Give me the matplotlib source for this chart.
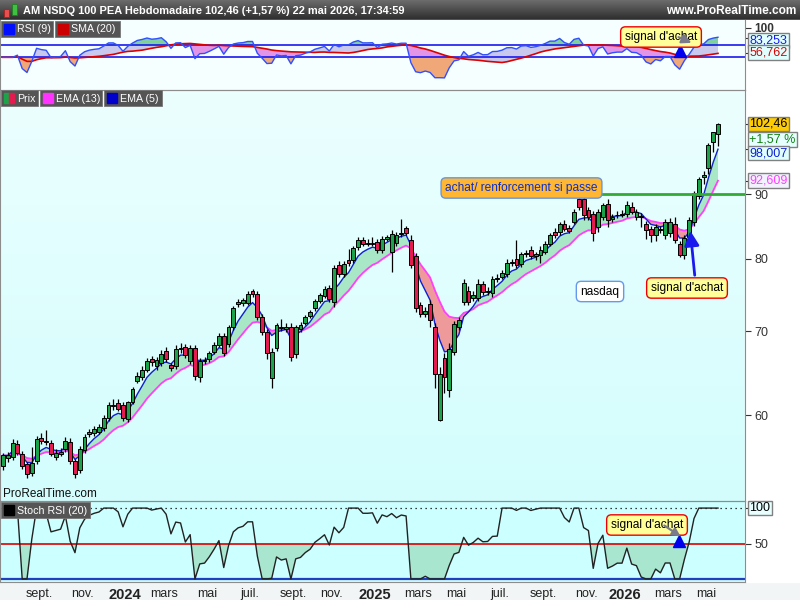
import numpy as np
import pandas as pd
import matplotlib
matplotlib.use("Agg")
import matplotlib.pyplot as plt
import matplotlib.transforms as mtransforms
from matplotlib.colors import LinearSegmentedColormap
from matplotlib.patches import Rectangle
from matplotlib.ticker import FixedLocator, FixedFormatter, NullLocator

plt.rcParams["font.family"] = ["Liberation Sans", "DejaVu Sans"]

# weekly candles, AM NSDQ 100 PEA
opens = [
    54.6, 55.4, 55.5, 56.9, 55.9, 54.8, 53.9, 55.1, 57.5, 57.2,
    57.0, 55.5, 55.9, 56.4, 57.1, 55.1, 54.2, 56.3, 57.9, 58.0,
    58.2, 58.6, 59.7, 61.0, 61.3, 61.1, 59.6, 61.5, 63.9, 64.3,
    65.2, 66.5, 65.6, 66.0, 67.5, 65.8, 65.7, 67.7, 68.0, 66.3,
    67.9, 64.4, 66.3, 66.5, 67.4, 68.3, 69.4, 68.4, 70.5, 73.6,
    73.7, 73.7, 75.3, 74.9, 71.9, 69.9, 64.2, 67.9, 70.6, 70.3,
    70.6, 67.1, 70.3, 71.1, 72.0, 73.0, 74.0, 74.7, 75.8, 73.8,
    79.1, 77.8, 79.8, 79.8, 81.7, 82.8, 82.3, 82.2, 82.5, 81.2,
    83.0, 80.9, 82.3, 83.7, 84.6, 82.7, 80.4, 73.4, 72.2, 73.6,
    70.5, 59.5, 66.6, 62.8, 67.4, 70.6, 73.8, 75.4, 74.4, 74.4,
    76.3, 75.2, 75.1, 77.0, 77.4, 77.8, 79.3, 80.0, 79.2, 80.6,
    81.2, 80.3, 80.5, 81.0, 82.2, 84.0, 84.0, 85.2, 84.6, 85.6,
    89.3, 89.3, 87.5, 86.9, 84.7, 86.3, 88.4, 86.1, 86.6, 86.8,
    86.8, 88.0, 86.4, 86.5, 85.2, 84.5, 83.5, 84.4, 83.5, 83.8,
    85.3, 82.1, 80.5, 83.3, 85.5, 89.8, 93.0, 94.5, 99.2, 100.6,
]
highs = [
    56.0, 56.1, 57.4, 57.3, 56.2, 55.0, 56.6, 57.7, 58.0, 58.4,
    57.3, 56.4, 56.5, 57.6, 57.5, 55.3, 56.7, 57.9, 58.5, 58.8,
    59.0, 60.0, 61.4, 61.8, 61.8, 61.5, 61.6, 63.2, 64.9, 65.6,
    66.6, 66.9, 66.7, 67.6, 68.0, 66.0, 68.2, 68.5, 68.4, 68.3,
    68.3, 66.6, 66.8, 67.5, 68.6, 69.8, 69.8, 70.8, 73.3, 74.3,
    74.4, 75.4, 75.6, 75.4, 72.3, 70.3, 67.9, 71.1, 71.6, 71.0,
    71.0, 70.8, 71.2, 72.1, 72.8, 74.3, 75.1, 76.1, 76.2, 79.0,
    79.6, 79.6, 81.4, 81.9, 83.2, 83.3, 83.0, 83.2, 82.9, 83.4,
    83.6, 84.3, 84.0, 86.0, 85.0, 83.5, 80.8, 73.9, 73.2, 74.1,
    71.0, 65.5, 67.3, 68.5, 71.3, 71.9, 77.0, 76.0, 75.3, 77.0,
    76.8, 75.9, 77.5, 77.8, 78.3, 80.0, 80.0, 82.8, 81.0, 81.3,
    81.8, 81.0, 81.8, 82.6, 83.9, 84.6, 85.6, 85.8, 85.1, 87.6,
    90.3, 89.8, 88.0, 87.3, 87.6, 88.6, 89.2, 86.9, 87.3, 87.4,
    88.9, 88.7, 87.6, 87.0, 85.7, 85.0, 85.2, 84.9, 86.0, 86.2,
    86.3, 82.6, 83.6, 86.3, 90.6, 93.0, 94.0, 98.9, 101.0, 102.6,
]
lows = [
    54.2, 55.0, 55.2, 55.7, 54.3, 53.4, 53.6, 54.8, 56.9, 56.8,
    55.6, 55.2, 55.6, 56.1, 54.8, 53.4, 53.9, 56.0, 57.6, 57.7,
    57.9, 58.3, 59.4, 60.6, 60.4, 59.3, 59.2, 61.2, 63.6, 64.0,
    64.9, 65.7, 65.2, 65.6, 66.1, 65.0, 65.3, 67.3, 66.6, 65.9,
    64.0, 63.8, 65.9, 66.2, 67.1, 68.0, 66.9, 68.0, 70.1, 73.2,
    73.3, 73.4, 74.6, 71.5, 69.5, 66.5, 63.0, 67.5, 70.0, 69.9,
    66.3, 66.6, 69.9, 70.8, 71.7, 72.7, 73.7, 74.4, 73.9, 73.2,
    77.4, 77.4, 78.9, 79.4, 81.3, 81.8, 81.8, 81.8, 80.8, 80.8,
    82.6, 78.0, 81.9, 83.3, 83.5, 78.6, 72.5, 71.8, 71.8, 70.5,
    63.0, 59.3, 62.5, 62.0, 67.0, 70.2, 73.4, 73.4, 74.0, 74.0,
    74.8, 74.8, 74.5, 76.6, 77.0, 77.4, 78.9, 78.6, 78.8, 80.2,
    80.0, 79.8, 79.3, 80.6, 81.8, 83.1, 83.6, 84.1, 83.8, 85.2,
    87.5, 85.9, 85.9, 82.6, 84.0, 85.9, 84.7, 85.6, 86.2, 86.3,
    86.4, 86.8, 85.9, 84.8, 83.0, 82.5, 82.6, 83.8, 83.0, 83.3,
    82.3, 80.2, 80.0, 82.9, 85.0, 89.2, 91.8, 93.5, 97.3, 98.3,
]
closes = [
    55.7, 55.7, 57.0, 56.0, 54.6, 53.8, 54.9, 57.4, 57.2, 57.1,
    55.9, 56.0, 56.1, 57.2, 55.1, 53.8, 56.4, 57.6, 58.2, 58.5,
    58.7, 59.7, 61.1, 61.1, 60.7, 59.7, 61.4, 62.9, 64.5, 65.2,
    66.3, 66.1, 66.4, 67.1, 66.5, 65.4, 67.8, 67.9, 67.0, 67.9,
    64.5, 66.3, 66.4, 67.2, 68.2, 69.4, 67.3, 70.5, 73.0, 73.8,
    74.1, 75.0, 75.0, 71.8, 69.9, 67.3, 67.4, 70.8, 70.4, 70.6,
    66.7, 70.5, 70.8, 71.8, 72.5, 74.0, 74.8, 75.7, 74.3, 78.6,
    77.8, 79.2, 79.3, 81.5, 82.8, 82.2, 82.2, 82.3, 81.2, 83.0,
    83.2, 83.7, 83.5, 83.9, 83.9, 79.0, 73.1, 72.2, 72.7, 71.5,
    64.7, 64.7, 64.4, 67.8, 70.9, 71.4, 76.5, 73.8, 74.8, 76.4,
    75.2, 75.3, 77.1, 77.2, 77.9, 79.3, 79.4, 79.0, 80.6, 80.8,
    80.4, 80.7, 81.3, 82.2, 83.5, 83.5, 85.2, 84.5, 84.2, 87.1,
    88.0, 86.6, 86.4, 83.8, 87.2, 88.2, 85.8, 86.4, 86.7, 86.7,
    88.2, 87.2, 87.1, 86.4, 84.3, 83.5, 84.7, 84.3, 85.5, 85.5,
    82.7, 80.5, 83.1, 85.8, 90.3, 92.6, 93.2, 98.5, 100.9, 102.46,
]

last_date = "2026-05-22"
month_names = {1: None, 3: "mars", 5: "mai", 7: "juil.", 9: "sept.", 11: "nov."}

title = "AM NSDQ 100 PEA Hebdomadaire 102,46 (+1,57 %) 22 mai 2026, 17:34:59"
rsi_shown, sma_shown = 83.253, 56.762


def ema(vals, span):
    return pd.Series(vals).ewm(span=span, adjust=False).mean().to_numpy()


def rsi(vals, n):
    d = pd.Series(vals).diff().fillna(0)
    up = d.clip(lower=0).ewm(alpha=1 / n, adjust=False).mean()
    dn = (-d.clip(upper=0)).ewm(alpha=1 / n, adjust=False).mean()
    return (100 - 100 / (1 + up / dn.replace(0, np.nan))).fillna(50).to_numpy()


o = np.array(opens)
h = np.array(highs)
l = np.array(lows)
c = np.array(closes)
n = len(c)
x = np.arange(n)
dates = pd.date_range(end=last_date, periods=n, freq="W-FRI")

ema5 = ema(c, 5)
ema13 = ema(c, 13)
rsi9 = rsi(c, 9)
rsi_sma = pd.Series(rsi9).rolling(20, min_periods=1).mean().to_numpy()
r20 = pd.Series(rsi(c, 20))
lo20 = r20.rolling(20, min_periods=1).min()
hi20 = r20.rolling(20, min_periods=1).max()
stoch = ((r20 - lo20) / (hi20 - lo20).replace(0, np.nan) * 100).fillna(100).to_numpy()

W, H = 800, 600
fig = plt.figure(figsize=(8, 6), dpi=100)
fig.patch.set_facecolor("#f2f5f5")


def fr(x0, y0, x1, y1):
    return [x0 / W, 1 - y1 / H, (x1 - x0) / W, (y1 - y0) / H]


# background layer in pixel coords
bg = fig.add_axes([0, 0, 1, 1], zorder=0)
bg.axis("off")
bar_cmap = LinearSegmentedColormap.from_list("bar", ["#6c6c6c", "#2c2c2c"])
bg.imshow(np.linspace(0, 1, 40).reshape(-1, 1), extent=(0, W, 20, 0), cmap=bar_cmap, aspect="auto")
bg.add_patch(Rectangle((0, 20), 745, 70, color="#f5ffff"))
price_cmap = LinearSegmentedColormap.from_list("pbg", ["#ecffff", "#d3fdfd"])
bg.imshow(np.linspace(0, 1, 100).reshape(-1, 1), extent=(0, 745, 501, 90), cmap=price_cmap, aspect="auto")
bg.add_patch(Rectangle((0, 501), 745, 81, color="#ccffff"))
bg.add_patch(Rectangle((745, 20), 55, 562, color="white"))
bg.set_xlim(0, W)
bg.set_ylim(H, 0)

# bar 0 sits 3 px from the left edge, the last bar at 718 px
span = (n - 1) * 745 / 715
xmin = -3 * span / 745
xmax = xmin + span

ax_r = fig.add_axes(fr(0, 20, 745, 90), zorder=1)
ax_p = fig.add_axes(fr(0, 90, 745, 501), sharex=ax_r, zorder=1)
ax_s = fig.add_axes(fr(0, 501, 745, 582), sharex=ax_r, zorder=1)
for ax in (ax_r, ax_p, ax_s):
    ax.set_facecolor("none")
    for sp in ax.spines.values():
        sp.set_color("#8c8c8c")
    ax.yaxis.tick_right()
    ax.tick_params(axis="y", direction="out", length=4, colors="#333333", labelsize=9, pad=3)
    ax.tick_params(axis="x", length=0, labelbottom=False)
ax_r.spines["top"].set_visible(False)
ax_r.set_xlim(xmin, xmax)

# RSI panel
ax_r.set_ylim(-5.2, 113)
ax_r.fill_between(x, rsi9, rsi_sma, where=rsi9 >= rsi_sma, interpolate=True, color="#c9c9ee", lw=0)
ax_r.fill_between(x, rsi9, rsi_sma, where=rsi9 < rsi_sma, interpolate=True, color="#e295e6", lw=0)
ax_r.fill_between(x, rsi9, 70, where=rsi9 > 70, interpolate=True, color="#7fcf9f", lw=0)
ax_r.fill_between(x, rsi9, 50, where=rsi9 < 50, interpolate=True, color="#f0a878", lw=0)
ax_r.axhline(70, color="#1a1aee", lw=1.2)
ax_r.axhline(50, color="#1a1aee", lw=1.2)
ax_r.plot(x, rsi_sma, color="#dd0000", lw=1.2)
ax_r.plot(x, rsi9, color="#3050ff", lw=1)
ax_r.yaxis.set_major_locator(FixedLocator([100, rsi_shown, sma_shown]))
ax_r.yaxis.set_major_formatter(FixedFormatter(["100", "", ""]))
lab100 = ax_r.get_yticklabels()[0]
lab100.set_fontweight("bold")
lab100.set_fontsize(8.5)

# price panel
ax_p.set_yscale("log")
ax_p.set_ylim(51.23, 109.05)
ax_p.fill_between(x, ema5, ema13, where=ema5 >= ema13, interpolate=True, color="#a9e8c6", lw=0, zorder=1)
ax_p.fill_between(x, ema5, ema13, where=ema5 < ema13, interpolate=True, color="#ef9a9a", lw=0, zorder=1)
ax_p.plot(x, ema13, color="#ff40ff", lw=1.3, zorder=2)
ax_p.plot(x, ema5, color="#1020d0", lw=1, zorder=2)
colors = np.where(c >= o, "#1ba34a", "#e41b4f")
ax_p.vlines(x, l, h, color="black", lw=0.9, zorder=3)
ax_p.bar(x, np.maximum(np.abs(c - o), 0.12), bottom=np.minimum(o, c), width=0.8,
         color=colors, edgecolor="black", linewidth=0.7, zorder=4)
ax_p.plot([124, xmax], [90, 90], color="#33aa33", lw=2, zorder=5)
ax_p.yaxis.set_major_locator(FixedLocator([60, 70, 80, 90, ema13[-1], ema5[-1], c[-1]]))
ax_p.yaxis.set_major_formatter(FixedFormatter(["60", "70", "80", "90", "", "", ""]))
ax_p.yaxis.set_minor_locator(NullLocator())

# stochastic RSI panel
ax_s.set_ylim(-4.3, 110)
ax_s.fill_between(x, stoch, 50, where=stoch < 50, interpolate=True, color="#a8e6d0", lw=0)
ax_s.axhline(100, color="black", lw=0.9, ls=(0, (1, 3)))
ax_s.axhline(50, color="#dd0000", lw=1.2)
ax_s.axhline(0, color="#1f3fbf", lw=1.6)
ax_s.plot(x, stoch, color="#222222", lw=1)
ax_s.yaxis.set_major_locator(FixedLocator([100, 50]))
ax_s.yaxis.set_major_formatter(FixedFormatter(["", "50"]))

# month ticks, label sits just right of the first bar of the month
tpos, tlab = [], []
for i, d in enumerate(dates):
    if i > 0 and d.month in month_names and dates[i - 1].month != d.month:
        tpos.append(i + 0.5)
        tlab.append(str(d.year) if d.month == 1 else month_names[d.month])
ax_s.set_xticks(tpos)
ax_s.set_xticklabels(tlab)
ax_s.tick_params(axis="x", length=0, labelbottom=True, labelsize=9, pad=4, colors="#222222")
for t in ax_s.get_xticklabels():
    if t.get_text().isdigit():
        t.set_fontweight("bold")
        t.set_fontsize(10.5)


def value_box(ax, y, text, fc, tc):
    tr = mtransforms.blended_transform_factory(ax.transAxes, ax.transData)
    ax.text(1.006, y, text, transform=tr, ha="left", va="center", fontsize=9, color=tc,
            clip_on=False, zorder=20,
            bbox=dict(boxstyle="square,pad=0.1", fc=fc, ec="#808080", lw=1))


value_box(ax_r, rsi_shown - 4.5, "83,253", "#dfffff", "#1a1aee")
value_box(ax_r, sma_shown + 1, "56,762", "#dfffff", "#dd0000")
value_box(ax_p, c[-1], "102,46", "#ffcc00", "black")
value_box(ax_p, 99.6, "+1,57 %", "#e6ffff", "#108010")
value_box(ax_p, 97.1, "98,007", "#dfffff", "#1020d0")
value_box(ax_p, 92.3, "92,609", "#f2f2ff", "#ff40ff")
value_box(ax_s, 100, "100", "#e8ffff", "black")

# overlay in pixel coordinates: title bar, legends, notes
ov = fig.add_axes([0, 0, 1, 1], zorder=10)
ov.set_xlim(0, W)
ov.set_ylim(H, 0)
ov.axis("off")
ov.patch.set_alpha(0)

ov.add_patch(Rectangle((4, 9), 5, 8, fc="#e85050", ec="#aa2020", lw=0.6))
ov.add_patch(Rectangle((12, 4), 5, 11, fc="#40c040", ec="#208020", lw=0.6))
ov.text(23, 10.5, title, color="white", fontsize=7.9, fontweight="bold", va="center")
ov.text(796, 11, "www.ProRealTime.com", color="white", fontsize=8.6, fontweight="bold",
        va="center", ha="right")


def legend(x0, y0, w, label, swatch):
    ov.add_patch(Rectangle((x0, y0), w, 16, fc="#555555", ec="#777777", lw=0.6))
    if isinstance(swatch, tuple):
        ov.add_patch(Rectangle((x0 + 3, y0 + 3), 5, 10, color=swatch[0]))
        ov.add_patch(Rectangle((x0 + 8, y0 + 3), 5, 10, color=swatch[1]))
    else:
        ov.add_patch(Rectangle((x0 + 3, y0 + 3), 10, 10, color=swatch))
    ov.text(x0 + 16, y0 + 8.5, label, color="white", fontsize=7.7, va="center")


legend(1, 21, 52, "RSI (9)", "#0010ff")
legend(55, 21, 65, "SMA (20)", "#cc0000")
legend(1, 90, 37, "Prix", ("#1ba34a", "#e41b4f"))
legend(40, 90, 62, "EMA (13)", "#ff33ff")
legend(104, 90, 58, "EMA (5)", "#0000cc")
legend(1, 502, 89, "Stoch RSI (20)", "black")

ov.text(3, 494, "ProRealTime.com", fontsize=8.5, color="#111111", va="center")


def note(xc, yc, text, fc, ec, tc="black"):
    ov.text(xc, yc, text, ha="center", va="center", fontsize=8.6, color=tc,
            bbox=dict(boxstyle="round,pad=0.35,rounding_size=0.4", fc=fc, ec=ec, lw=1))


note(661, 37, "signal d'achat", "#ffff99", "#ee0000")
ov.annotate("", xy=(694, 44), xytext=(676, 36),
            arrowprops=dict(arrowstyle="-|>", color="#7a7a8a", lw=1.6, mutation_scale=14))
ov.plot(680, 51, marker="^", color="#0000ee", ms=9)

note(521.5, 188, "achat/ renforcement si passe", "#ffb733", "#6b95d8", "#0a2fc8")
note(600, 291.5, "nasdaq", "white", "#6699ee")
note(687, 288, "signal d'achat", "#ffff99", "#ee0000")
ov.annotate("", xy=(690, 228), xytext=(695, 278),
            arrowprops=dict(arrowstyle="-|>", color="#1a1aee", lw=2, mutation_scale=22))

note(647, 525, "signal d'achat", "#ffff99", "#ee0000")
ov.annotate("", xy=(683, 538), xytext=(662, 524),
            arrowprops=dict(arrowstyle="-|>", color="#7a7a8a", lw=1.6, mutation_scale=12))
ov.plot(679, 541, marker="^", color="#0000ee", ms=9)

fig.savefig("out.png", dpi=100, facecolor=fig.get_facecolor())
